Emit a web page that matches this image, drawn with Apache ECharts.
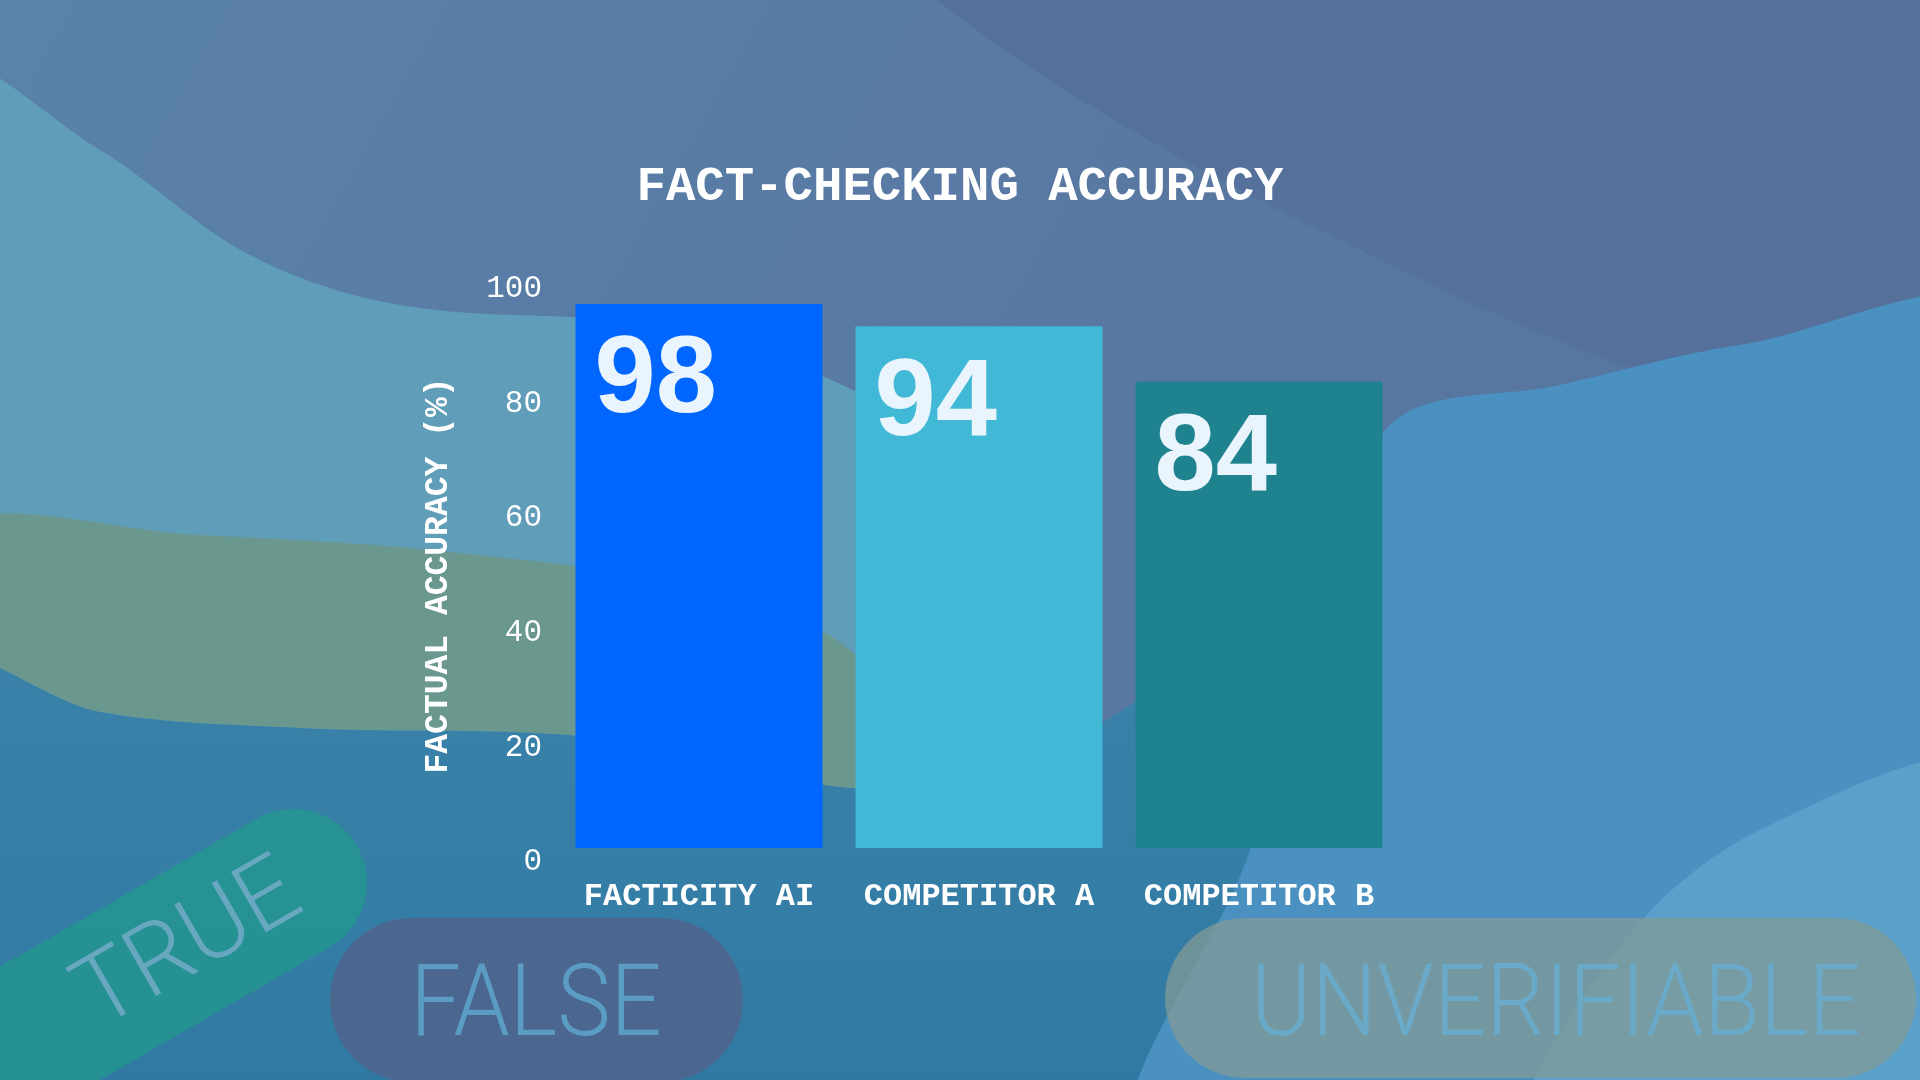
<!DOCTYPE html>
<html>
<head>
<meta charset="utf-8">
<script src="https://cdn.jsdelivr.net/npm/echarts@6/dist/echarts.min.js"></script>
<style>
html,body{margin:0;padding:0;background:#5878a2;}
#chart{width:1920px;height:1080px;}
</style>
</head>
<body>
<div id="chart"></div>
<script>
// ---- data ----
const categories = ['FACTICITY AI', 'COMPETITOR A', 'COMPETITOR B'];
const accuracy = [98, 94, 84];
const barColors = ['#0066ff', '#41b8d6', '#1f838f'];
const yTicks = { min: 0, max: 100, interval: 20 };
const titleText = 'FACT-CHECKING ACCURACY';
const yAxisTitle = 'FACTUAL ACCURACY (%)';
const badgeWords = ['TRUE', 'FALSE', 'UNVERIFIABLE'];

const chart = echarts.init(document.getElementById('chart'), null, { renderer: 'canvas' });

const mono = '"Liberation Mono", "DejaVu Sans Mono", monospace';

function blob(points, fill, z) {
  return { type: 'polygon', z: z, shape: { points: points, smooth: 0.35 }, style: { fill: fill } };
}

const bg = [
  { type: 'rect', z: -20, shape: { x: 0, y: 0, width: 1920, height: 1080 },
    style: { fill: new echarts.graphic.LinearGradient(0, 0, 1, 1, [
      { offset: 0, color: '#5a82aa' }, { offset: 0.5, color: '#5878a2' }, { offset: 1, color: '#55729c' }]) } },
  blob([[900, -60], [2000, -60], [2000, 440], [1700, 390], [1360, 250], [1020, 60]], '#54709b', -19),
  blob([[-60, 70], [100, 150], [250, 255], [400, 305], [650, 325], [820, 375], [930, 450], [950, 600], [960, 800], [-60, 800]], '#609db8', -18),
  blob([[-60, 525], [200, 535], [450, 552], [700, 590], [860, 660], [880, 790], [600, 738], [300, 728], [100, 712], [-60, 665]], '#6a988f', -17),
  blob([[-60, 665], [100, 712], [300, 728], [600, 738], [880, 790], [1050, 750], [1200, 690], [1260, 1150], [-60, 1150]],
    new echarts.graphic.LinearGradient(0, 0, 0, 1, [{ offset: 0, color: '#3a82a9' }, { offset: 1, color: '#2c76a1' }]), -16),
  blob([[1390, 425], [1560, 385], [1740, 345], [2000, 320], [2000, 1150], [1150, 1150], [1250, 850], [1320, 620]], '#4a91c1', -15),
  blob([[1530, 1150], [1610, 960], [1760, 830], [2000, 770], [2000, 1150]], '#5ba0ca', -14)
];

const r = 74, L = 600;
const badges = [
  // TRUE pill (rotated)
  { type: 'rect', z: -10, x: 293 - 0.866 * (L / 2 - r), y: 883 + 0.5 * (L / 2 - r), rotation: Math.PI / 6,
    shape: { x: -L / 2, y: -r, width: L, height: 2 * r, r: r },
    style: { fill: 'rgba(30,160,135,0.6)' } },
  { type: 'text', z: -9, x: 190, y: 948, rotation: Math.PI / 6,
    style: { text: badgeWords[0], font: '300 98px Roboto', fill: 'rgba(115,170,200,0.85)', align: 'center', verticalAlign: 'middle' } },
  // FALSE pill
  { type: 'rect', z: -10, shape: { x: 330, y: 918, width: 413, height: 164, r: 82 },
    style: { fill: 'rgba(80,100,140,0.85)' } },
  { type: 'text', z: -9, x: 536, y: 1010, scaleX: 0.9,
    style: { text: badgeWords[1], font: '300 100px Roboto', fill: '#5b9cc4', align: 'center', verticalAlign: 'middle' } },
  // UNVERIFIABLE pill
  { type: 'rect', z: -10, shape: { x: 1165, y: 918, width: 751, height: 160, r: 80 },
    style: { fill: 'rgba(130,155,150,0.75)' } },
  { type: 'text', z: -9, x: 1556, y: 1010, scaleX: 0.92,
    style: { text: badgeWords[2], font: '300 100px Roboto', fill: '#6aa9c8', align: 'center', verticalAlign: 'middle' } }
];

const option = {
  backgroundColor: 'transparent',
  animation: false,
  title: {
    text: titleText, left: 'center', top: 158,
    textStyle: { color: '#ffffff', fontFamily: mono, fontWeight: 'bold', fontSize: 49 }
  },
  graphic: { elements: bg.concat(badges) },
  grid: [
    { left: 559, right: 521, top: 293, bottom: 232 },
    { left: 559, right: 521, top: 289, bottom: 218 }
  ],
  xAxis: [
    { type: 'category', gridIndex: 0, data: categories,
      axisLine: { show: false }, axisTick: { show: false },
      axisLabel: { interval: 0, color: '#ffffff', fontFamily: mono, fontWeight: 'bold', fontSize: 32, margin: 33 } },
    { type: 'category', gridIndex: 1, data: categories, show: false }
  ],
  yAxis: [
    { type: 'value', gridIndex: 0, min: yTicks.min, max: yTicks.max, interval: yTicks.interval, show: false },
    { type: 'value', gridIndex: 1, min: yTicks.min, max: yTicks.max, interval: yTicks.interval,
      axisLine: { show: false }, axisTick: { show: false }, splitLine: { show: false },
      axisLabel: { color: '#ffffff', fontFamily: mono, fontSize: 31, margin: 17 },
      name: yAxisTitle, nameLocation: 'middle', nameRotate: 90, nameGap: 104,
      nameTextStyle: { color: '#ffffff', fontFamily: mono, fontWeight: 'bold', fontSize: 33 } }
  ],
  series: [{
    type: 'bar', xAxisIndex: 0, yAxisIndex: 0, barWidth: 247,
    data: accuracy.map((v, i) => ({ value: v, itemStyle: { color: barColors[i] } })),
    label: {
      show: true, position: 'insideTopLeft', distance: 0, offset: [19, 23],
      color: '#eaf4fc', fontFamily: '"Liberation Sans", Arial, sans-serif', fontWeight: 'bold', fontSize: 110
    }
  }]
};
chart.setOption(option);
</script>
</body>
</html>
